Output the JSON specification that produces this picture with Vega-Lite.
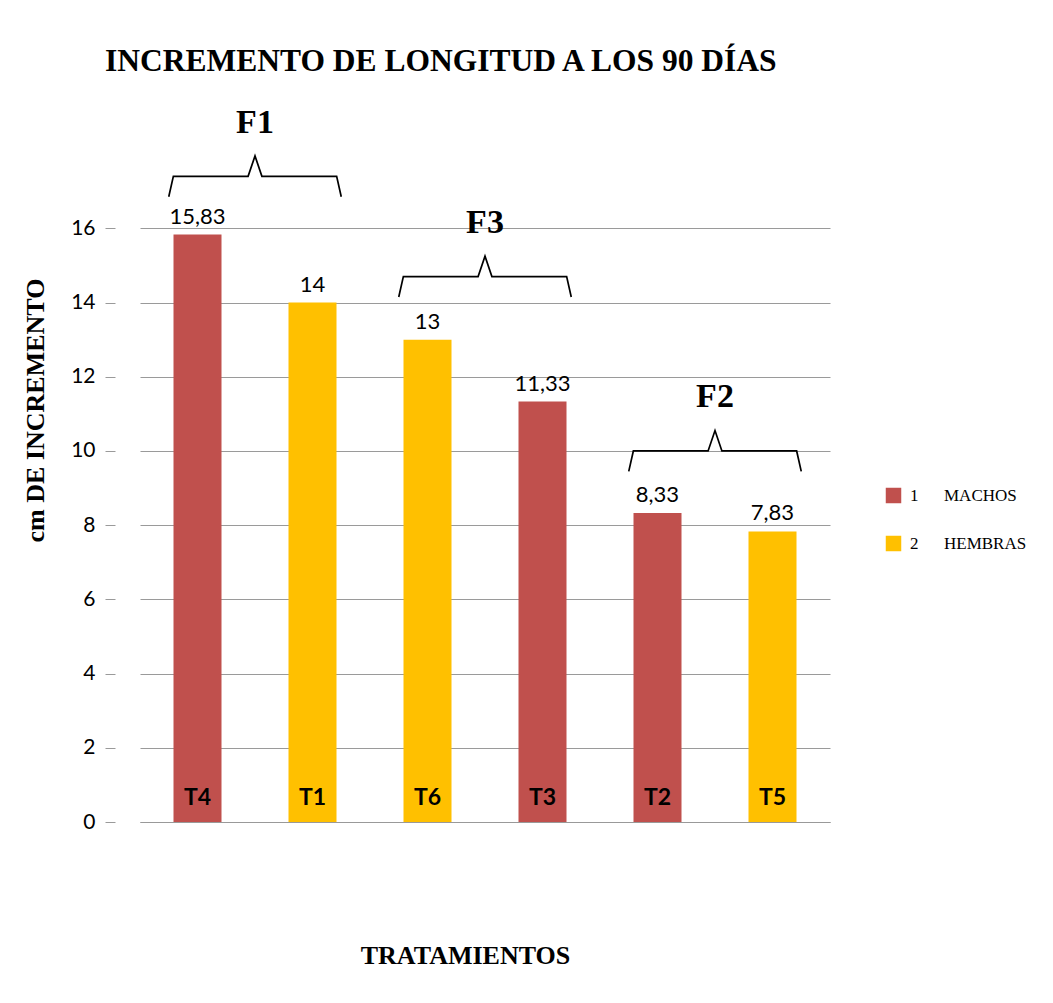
{
  "$schema": "https://vega.github.io/schema/vega-lite/v6.json",
  "autosize": {"type": "none"},
  "width": 690,
  "height": 705,
  "padding": {"left": 140, "top": 117, "right": 223, "bottom": 181},
  "background": "white",
  "title": {
    "text": "INCREMENTO DE LONGITUD A LOS 90 DÍAS",
    "font": "Liberation Serif",
    "fontSize": 31.5,
    "fontWeight": "bold",
    "color": "black",
    "anchor": "start",
    "frame": "group",
    "dx": -35,
    "offset": 28
  },
  "config": {
    "locale": {"number": {"decimal": ",", "thousands": ".", "grouping": [3], "currency": ["", ""]}},
    "view": {"stroke": null}
  },
  "datasets": {
    "barras": [
      {"trat": "T4", "valor": 15.83, "sexo": "1"},
      {"trat": "T1", "valor": 14, "sexo": "2"},
      {"trat": "T6", "valor": 13, "sexo": "2"},
      {"trat": "T3", "valor": 11.33, "sexo": "1"},
      {"trat": "T2", "valor": 8.33, "sexo": "1"},
      {"trat": "T5", "valor": 7.83, "sexo": "2"}
    ],
    "llaves": [
      {"grupo": "F1", "orden": 1, "pos": 0.25, "nivel": 16.85},
      {"grupo": "F1", "orden": 2, "pos": 0.29, "nivel": 17.4},
      {"grupo": "F1", "orden": 3, "pos": 0.94, "nivel": 17.4},
      {"grupo": "F1", "orden": 4, "pos": 1.0, "nivel": 17.95},
      {"grupo": "F1", "orden": 5, "pos": 1.06, "nivel": 17.4},
      {"grupo": "F1", "orden": 6, "pos": 1.71, "nivel": 17.4},
      {"grupo": "F1", "orden": 7, "pos": 1.75, "nivel": 16.85},
      {"grupo": "F3", "orden": 1, "pos": 2.25, "nivel": 14.15},
      {"grupo": "F3", "orden": 2, "pos": 2.29, "nivel": 14.7},
      {"grupo": "F3", "orden": 3, "pos": 2.94, "nivel": 14.7},
      {"grupo": "F3", "orden": 4, "pos": 3.0, "nivel": 15.25},
      {"grupo": "F3", "orden": 5, "pos": 3.06, "nivel": 14.7},
      {"grupo": "F3", "orden": 6, "pos": 3.71, "nivel": 14.7},
      {"grupo": "F3", "orden": 7, "pos": 3.75, "nivel": 14.15},
      {"grupo": "F2", "orden": 1, "pos": 4.25, "nivel": 9.45},
      {"grupo": "F2", "orden": 2, "pos": 4.29, "nivel": 10.0},
      {"grupo": "F2", "orden": 3, "pos": 4.94, "nivel": 10.0},
      {"grupo": "F2", "orden": 4, "pos": 5.0, "nivel": 10.55},
      {"grupo": "F2", "orden": 5, "pos": 5.06, "nivel": 10.0},
      {"grupo": "F2", "orden": 6, "pos": 5.71, "nivel": 10.0},
      {"grupo": "F2", "orden": 7, "pos": 5.75, "nivel": 9.45}
    ],
    "etiquetas": [
      {"grupo": "F1", "pos": 1.0, "nivel": 18.85},
      {"grupo": "F3", "pos": 3.0, "nivel": 16.15},
      {"grupo": "F2", "pos": 5.0, "nivel": 11.45}
    ]
  },
  "layer": [
    {
      "data": {"name": "barras"},
      "layer": [
        {
          "mark": {"type": "bar", "size": 48},
          "encoding": {
            "x": {
              "field": "trat",
              "type": "nominal",
              "sort": null,
              "scale": {"paddingInner": 0.3, "paddingOuter": 0.15},
              "axis": {
                "labels": false,
                "ticks": false,
                "domain": true,
                "domainColor": "#999999",
                "title": "TRATAMIENTOS",
                "titleFont": "Liberation Serif",
                "titleFontSize": 26,
                "titleFontWeight": "bold",
                "titleColor": "black",
                "titleX": 325,
                "titleY": 133,
                "titleAlign": "center",
                "titleBaseline": "middle"
              }
            },
            "y": {
              "field": "valor",
              "type": "quantitative",
              "scale": {"domain": [0, 19], "nice": false},
              "axis": {
                "values": [0, 2, 4, 6, 8, 10, 12, 14, 16],
                "domain": false,
                "grid": true,
                "gridColor": "#9a9a9a",
                "gridWidth": 1.2,
                "tickColor": "#9a9a9a",
                "tickSize": 10,
                "offset": 25,
                "labelPadding": 10,
                "labelFont": "Lato",
                "labelFontSize": 21,
                "labelColor": "black",
                "title": "cm DE INCREMENTO",
                "titleFont": "Liberation Serif",
                "titleFontSize": 26,
                "titleFontWeight": "bold",
                "titleColor": "black",
                "titleX": -80,
                "titleY": 293,
                "titleAngle": -90,
                "titleAlign": "center",
                "titleBaseline": "middle"
              }
            },
            "color": {
              "field": "sexo",
              "type": "nominal",
              "scale": {"domain": ["1", "2"], "range": ["#C0504D", "#FFC000"]},
              "legend": {
                "title": null,
                "orient": "none",
                "legendX": 745,
                "legendY": 370,
                "symbolType": "square",
                "symbolSize": 240,
                "symbolStrokeWidth": 0,
                "rowPadding": 30,
                "labelFont": "Liberation Serif",
                "labelFontSize": 17,
                "labelColor": "black",
                "labelOffset": 8,
                "labelExpr": "datum.label == '1' ? '1\u00a0\u00a0\u00a0\u00a0\u00a0\u00a0MACHOS' : '2\u00a0\u00a0\u00a0\u00a0\u00a0\u00a0HEMBRAS'"
              }
            }
          }
        },
        {
          "mark": {"type": "text", "baseline": "bottom", "dy": -6, "font": "Lato", "fontSize": 22, "color": "black"},
          "encoding": {
            "x": {"field": "trat", "type": "nominal", "sort": null},
            "y": {"field": "valor", "type": "quantitative"},
            "text": {"field": "valor", "type": "quantitative", "format": ".2~f"}
          }
        },
        {
          "mark": {"type": "text", "baseline": "bottom", "dy": -12, "font": "Lato", "fontSize": 23, "fontWeight": "bold", "color": "black"},
          "encoding": {
            "x": {"field": "trat", "type": "nominal", "sort": null},
            "y": {"datum": 0, "type": "quantitative"},
            "text": {"field": "trat", "type": "nominal"}
          }
        }
      ]
    },
    {
      "data": {"name": "llaves"},
      "mark": {"type": "line", "color": "black", "strokeWidth": 1.7, "interpolate": "linear"},
      "encoding": {
        "x": {"field": "pos", "type": "quantitative", "scale": {"domain": [0, 6], "nice": false, "zero": false}, "axis": null},
        "y": {"field": "nivel", "type": "quantitative"},
        "detail": {"field": "grupo"},
        "order": {"field": "orden", "type": "quantitative"}
      }
    },
    {
      "data": {"name": "etiquetas"},
      "mark": {"type": "text", "font": "Liberation Serif", "fontSize": 34, "fontWeight": "bold", "color": "black", "baseline": "middle"},
      "encoding": {
        "x": {"field": "pos", "type": "quantitative", "scale": {"domain": [0, 6], "nice": false, "zero": false}, "axis": null},
        "y": {"field": "nivel", "type": "quantitative"},
        "text": {"field": "grupo"}
      }
    }
  ],
  "resolve": {"scale": {"x": "independent"}}
}
